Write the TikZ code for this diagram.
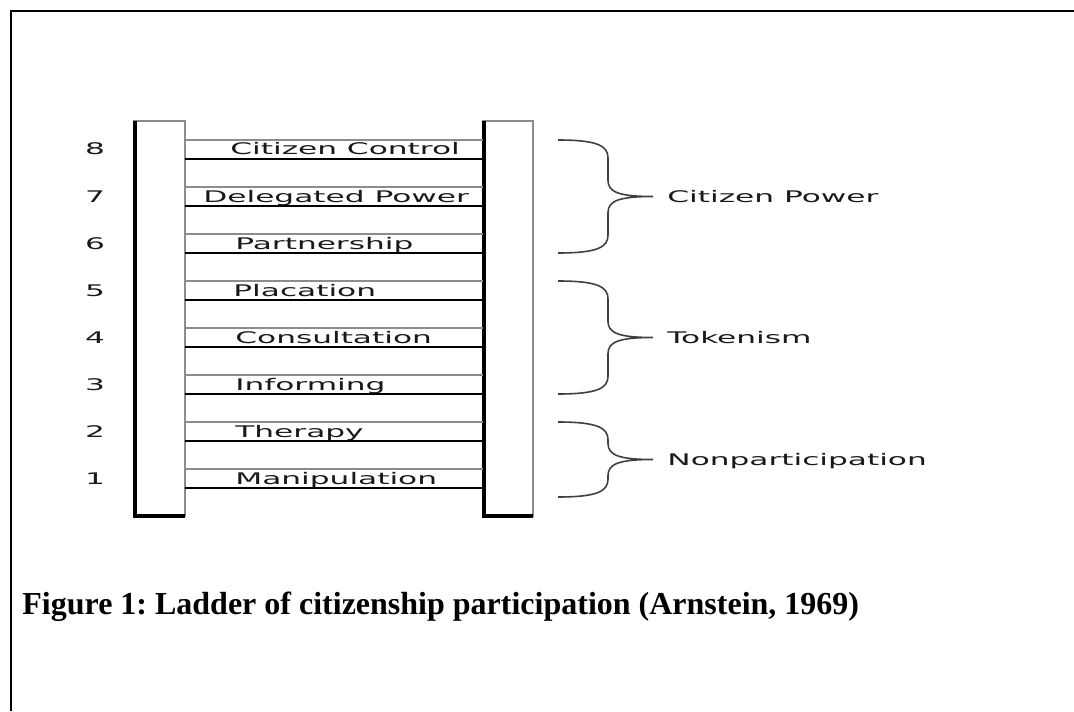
\documentclass[tikz,border=0pt]{standalone}
\usepackage{fontspec}
\setmainfont{Liberation Serif}
\newfontfamily\ladderfont[FakeStretch=1.95]{DejaVu Sans}
\usetikzlibrary{positioning}

\begin{document}
\frenchspacing
\begin{tikzpicture}[x=0.5pt,y=-0.5pt,
	rail/.style={draw=black!45,line width=0.9pt},
	rungtext/.style={anchor=base west,inner sep=0pt,text=black!90,font=\ladderfont\fontsize{8}{9}\selectfont},
	numtext/.style={anchor=base,inner sep=0pt,text=black!90,font=\ladderfont\fontsize{8}{9}\selectfont},
	bracepath/.style={draw=black!75,line width=0.8pt},
	grouptext/.style={inner sep=0pt,text height=5.8pt,text depth=0pt,text=black!90,font=\ladderfont\fontsize{8}{9}\selectfont}]
\useasboundingbox (0,0) rectangle (1074,711);
% frame
\draw[line width=1.2pt] (11,711) -- (11,11) -- (1074,11);
% rails
\draw[rail] (134,121) rectangle (185,516);
\draw[rail] (483,121) rectangle (533,516);
\draw[line width=1.8pt] (135,121) -- (135,516) -- (185,516);
\draw[line width=1.8pt] (484,121) -- (484,516) -- (533,516);
% rungs
\foreach \n/\txt/\x in {1/Manipulation/235, 2/Therapy/235, 3/Informing/235,
	4/Consultation/235, 5/Placation/233, 6/Partnership/235,
	7/Delegated Power/203, 8/Citizen Control/230} {
	\pgfmathsetmacro\ry{469-47*(\n-1)}
	\draw[black!45, line width=0.75pt] (185,\ry) -- (483,\ry);
	\draw[line width=0.9pt] (185,\ry+19) -- (483,\ry+19);
	\node[rungtext] (rung\n) at (\x,\ry+15) {\txt};
	\node[numtext] (num\n) at (95,\ry+15) {\n};
}
% braces
\foreach \ya/\yb/\nm/\grp in {140/253/cp/Citizen Power, 281/394/tk/Tokenism,
	422/497/np/Nonparticipation} {
	\pgfmathsetmacro\ym{(\ya+\yb)/2}
	\draw[bracepath] (558,\ya)
		.. controls (598,\ya) and (608,\ya+6) .. (608,\ya+18)
		-- (608,\ym-16)
		.. controls (608,\ym-4) and (620,\ym) .. (653,\ym) coordinate (tip-\nm)
		.. controls (620,\ym) and (608,\ym+4) .. (608,\ym+16)
		-- (608,\yb-18)
		.. controls (608,\yb-6) and (598,\yb) .. (558,\yb);
	\node[grouptext,right=7pt of tip-\nm] (\nm) {\grp};
}
% caption
\node[anchor=base west,inner sep=0pt,font=\bfseries\fontsize{16}{18}\selectfont]
	(caption) at (22,614) {Figure 1: Ladder of citizenship participation (Arnstein, 1969)};
\end{tikzpicture}
\end{document}
